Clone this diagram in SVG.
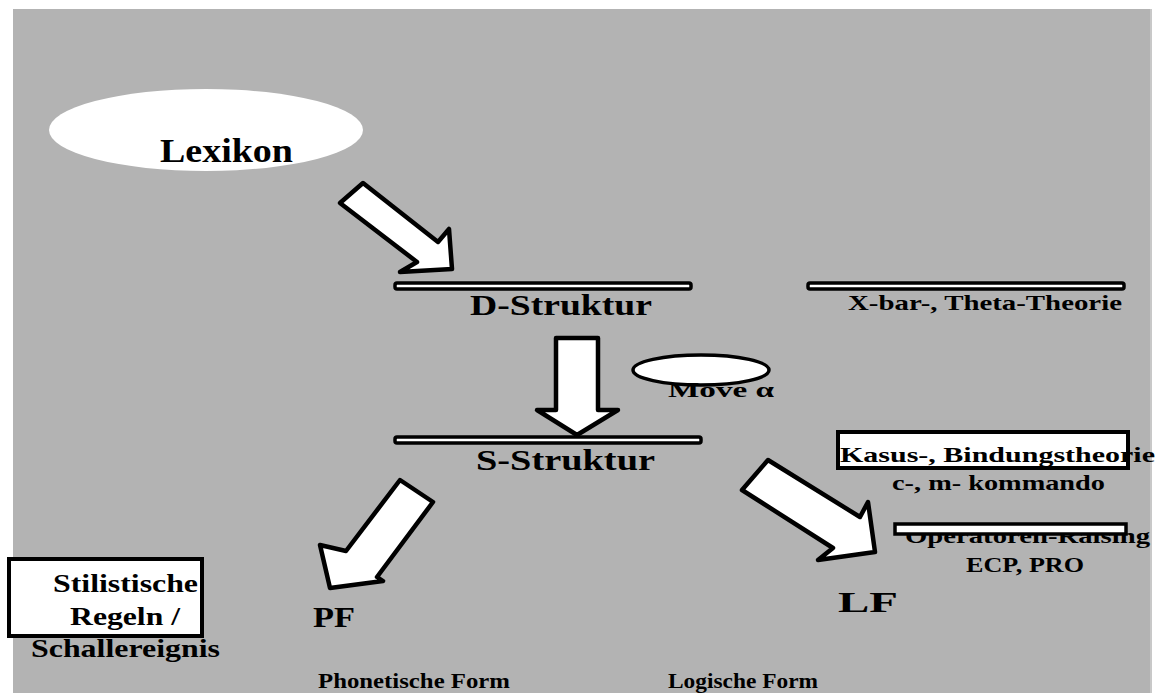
<svg xmlns="http://www.w3.org/2000/svg" width="1158" height="693" viewBox="0 0 1158 693">
<style>
text{font-family:"Liberation Serif","Times New Roman",serif;font-weight:bold;fill:#000}
.bar{fill:#fff;stroke:#000;stroke-width:3.5;stroke-linejoin:round}
.arr{fill:#fff;stroke:#000;stroke-width:4.5;stroke-linejoin:round}
.box{fill:#fff;stroke:#000;stroke-width:4}
</style>
<rect x="0" y="0" width="1158" height="693" fill="#fff"/>
<rect x="13" y="9" width="1137" height="684" fill="#b3b3b3"/>
<rect x="1150" y="9" width="2" height="684" fill="#c8c8c8"/>

<g id="connectors">
<polygon class="arr" points="363,183 438,242 449,229 452,269 400,272 417,262 340,203"/>
<polygon class="arr" points="556,338 598,338 598,410 618,410 577,435 537,410 556,410"/>
<polygon class="arr" points="400,480 433,502 377,577 383,581 330,588 320,545 346,551"/>
<polygon class="arr" points="768,460 860,517 868,502 875,552 818,560 833,548 742,490"/>
</g>

<g id="lexikon">
<ellipse cx="206" cy="130" rx="157" ry="41" fill="#fff"/>
<text x="160" y="162" font-size="33" textLength="133" lengthAdjust="spacingAndGlyphs">Lexikon</text>
</g>

<g id="d-struktur">
<rect class="bar" x="395" y="283" width="296" height="6" rx="2"/>
<text x="470" y="315" font-size="30" textLength="182" lengthAdjust="spacingAndGlyphs">D-Struktur</text>
</g>

<g id="xbar">
<rect class="bar" x="808" y="283" width="316" height="6" rx="2"/>
<text x="848" y="310" font-size="21" textLength="274" lengthAdjust="spacingAndGlyphs">X-bar-, Theta-Theorie</text>
</g>

<g id="move">
<ellipse cx="701" cy="370" rx="68" ry="15" fill="#fff" stroke="#000" stroke-width="3.5"/>
<text x="668" y="397" font-size="22" textLength="106" lengthAdjust="spacingAndGlyphs">Move α</text>
</g>

<g id="s-struktur">
<rect class="bar" x="395" y="437" width="306" height="6" rx="2"/>
<text x="476" y="470" font-size="30" textLength="179" lengthAdjust="spacingAndGlyphs">S-Struktur</text>
</g>

<g id="kasus">
<rect x="838" y="432" width="290" height="36" fill="#fff"/>
<text x="840" y="462" font-size="22" textLength="315" lengthAdjust="spacingAndGlyphs">Kasus-, Bindungstheorie</text>
<rect x="838" y="432" width="290" height="36" fill="none" stroke="#000" stroke-width="4"/>
<text x="892" y="490" font-size="21" textLength="213" lengthAdjust="spacingAndGlyphs">c-, m- kommando</text>
</g>

<g id="operatoren">
<text x="905" y="543" font-size="21" textLength="245" lengthAdjust="spacingAndGlyphs">Operatoren-Raising</text>
<rect x="895" y="524" width="231" height="10" fill="#fff" stroke="#000" stroke-width="3.5"/>
<text x="966" y="572" font-size="21" textLength="118" lengthAdjust="spacingAndGlyphs">ECP, PRO</text>
</g>

<g id="stilistische">
<rect class="box" x="9" y="559" width="193" height="77"/>
<text x="53" y="592" font-size="25" textLength="145" lengthAdjust="spacingAndGlyphs">Stilistische</text>
<text x="70" y="625" font-size="25" textLength="110" lengthAdjust="spacingAndGlyphs">Regeln /</text>
<text x="31" y="657" font-size="25" textLength="189" lengthAdjust="spacingAndGlyphs">Schallereignis</text>
</g>

<g id="pf">
<text x="313" y="627" font-size="30" textLength="42" lengthAdjust="spacingAndGlyphs">PF</text>
<text x="318" y="688" font-size="22" textLength="192" lengthAdjust="spacingAndGlyphs">Phonetische Form</text>
</g>

<g id="lf">
<text x="838" y="612" font-size="30" textLength="60" lengthAdjust="spacingAndGlyphs">LF</text>
<text x="668" y="688" font-size="22" textLength="150" lengthAdjust="spacingAndGlyphs">Logische Form</text>
</g>
</svg>
